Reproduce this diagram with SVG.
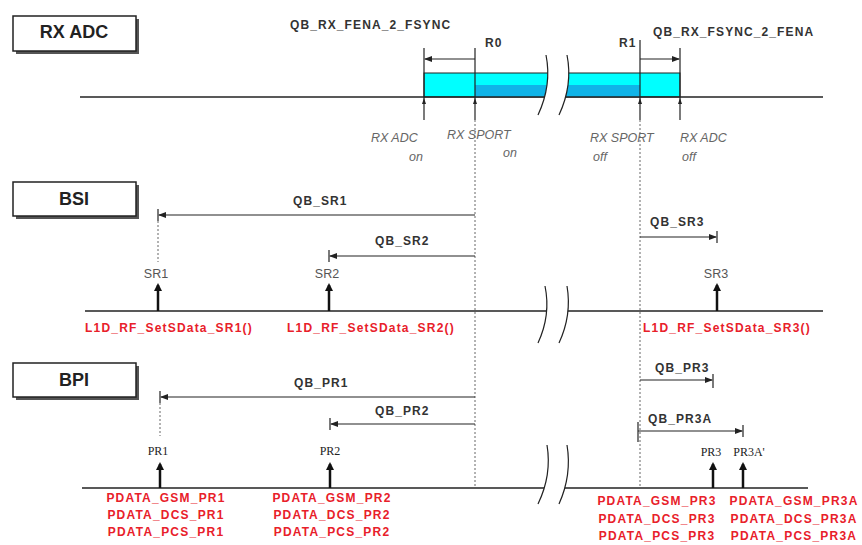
<svg xmlns="http://www.w3.org/2000/svg" width="862" height="545" viewBox="0 0 862 545">
<style>
.box{fill:#fff;stroke:#222;stroke-width:1.5}
.shadow{fill:#555}
.boxt{font-family:"Liberation Sans",Arial,sans-serif;font-weight:bold;font-size:18px;fill:#222;text-anchor:middle}
.tl{stroke:#222;stroke-width:1.5;fill:none}
.ln{stroke:#222;stroke-width:1.2;fill:none}
.dot{stroke:#666;stroke-width:1;stroke-dasharray:2 2;fill:none}
.up{stroke:#111;stroke-width:2.5;fill:none}
.qb{font-family:"Liberation Sans",Arial,sans-serif;font-weight:bold;font-size:12px;letter-spacing:1.1px;fill:#333}
.sr{font-family:"Liberation Sans",Arial,sans-serif;font-size:12.5px;fill:#555;text-anchor:middle}
.pr{font-family:"Liberation Serif","Times New Roman",serif;font-size:12px;fill:#222;text-anchor:middle}
.it{font-family:"Liberation Sans",Arial,sans-serif;font-style:italic;font-size:12.5px;fill:#666}
.red{font-family:"Liberation Sans",Arial,sans-serif;font-weight:bold;font-size:12px;letter-spacing:1.2px;fill:#E8202A;text-anchor:middle}
.brk{stroke:#222;stroke-width:1.2;fill:none}
</style>
<defs>
<marker id="ah" markerWidth="8" markerHeight="6" refX="7" refY="3" orient="auto" markerUnits="userSpaceOnUse">
<path d="M0,0 L8,3 L0,6 Z" fill="#222"/>
</marker>
<marker id="au" markerWidth="8" markerHeight="8" refX="6" refY="4" orient="auto" markerUnits="userSpaceOnUse">
<path d="M0,0 L8,4 L0,8 Z" fill="#111"/>
</marker>
</defs>
<rect width="862" height="545" fill="#fff"/>

<!-- RX ADC section -->
<g id="rxadc-box">
<rect class="shadow" x="16" y="19" width="123" height="35"/>
<rect class="box" x="13" y="16" width="123" height="35"/>
<text class="boxt" x="74" y="38">RX ADC</text>
</g>
<g id="rxadc-bar">
<rect x="424" y="73" width="256" height="24" fill="#00FFFF" stroke="#222" stroke-width="1"/>
<rect x="475" y="85" width="165" height="12" fill="#10B4E8"/>
</g>
<g id="rxadc-line">
<line class="tl" x1="80" y1="97" x2="823" y2="97"/>
</g>

<!-- BSI section -->
<g id="bsi-box">
<rect class="shadow" x="16" y="185" width="123" height="34"/>
<rect class="box" x="13" y="182" width="123" height="34"/>
<text class="boxt" x="74" y="205">BSI</text>
</g>
<g id="bsi-line">
<line class="tl" x1="85" y1="311" x2="823" y2="311"/>
</g>

<!-- BPI section -->
<g id="bpi-box">
<rect class="shadow" x="16" y="366" width="123" height="34"/>
<rect class="box" x="13" y="363" width="123" height="34"/>
<text class="boxt" x="74" y="386">BPI</text>
</g>
<g id="bpi-line">
<line class="tl" x1="82" y1="488" x2="808" y2="488"/>
</g>

<!-- breaks -->
<g id="breaks">
<path d="M546,55 Q552,85 538,115 L559,115 Q573,85 567,55 Z" fill="#fff"/>
<path class="brk" d="M546,55 Q552,85 538,115"/>
<path class="brk" d="M567,55 Q573,85 559,115"/>
<path d="M545,286 Q551,315 538,343 L559,343 Q572,315 567,286 Z" fill="#fff"/>
<path class="brk" d="M545,286 Q551,315 538,343"/>
<path class="brk" d="M567,286 Q572,315 559,343"/>
<path d="M547,445 Q552,475 538,504 L559,504 Q572,475 567,445 Z" fill="#fff"/>
<path class="brk" d="M547,445 Q552,475 538,504"/>
<path class="brk" d="M567,445 Q572,475 559,504"/>
</g>

<g id="connectors">
<!-- R0 / R1 reference lines -->
<line class="ln" x1="475" y1="48" x2="475" y2="120"/>
<line class="dot" x1="475" y1="120" x2="475" y2="488"/>
<line class="ln" x1="640" y1="40" x2="640" y2="120"/>
<line class="dot" x1="640" y1="120" x2="640" y2="488"/>
<line class="ln" x1="424" y1="48" x2="424" y2="120"/>
<line class="ln" x1="680" y1="48" x2="680" y2="120"/>
<path d="M422,104 L424,98 L426,104 Z" fill="#222"/>
<path d="M473,104 L475,98 L477,104 Z" fill="#222"/>
<path d="M638,104 L640,98 L642,104 Z" fill="#222"/>
<path d="M678,104 L680,98 L682,104 Z" fill="#222"/>
<line class="ln" x1="475" y1="59" x2="425" y2="59" marker-end="url(#ah)"/>
<line class="ln" x1="640" y1="59" x2="679" y2="59" marker-end="url(#ah)"/>

<!-- BSI -->
<line class="ln" x1="475" y1="215" x2="159" y2="215" marker-end="url(#ah)"/>
<line class="ln" x1="158" y1="209" x2="158" y2="221"/>
<line class="dot" x1="158" y1="221" x2="158" y2="262"/>
<line class="ln" x1="475" y1="256" x2="330" y2="256" marker-end="url(#ah)"/>
<line class="ln" x1="329" y1="250" x2="329" y2="262"/>
<line class="ln" x1="640" y1="237" x2="716" y2="237" marker-end="url(#ah)"/>
<line class="ln" x1="717" y1="231" x2="717" y2="243"/>
<line class="up" x1="158" y1="311" x2="158" y2="285" marker-end="url(#au)"/>
<line class="up" x1="329" y1="311" x2="329" y2="285" marker-end="url(#au)"/>
<line class="up" x1="717" y1="311" x2="717" y2="285" marker-end="url(#au)"/>

<!-- BPI -->
<line class="ln" x1="475" y1="397" x2="161" y2="397" marker-end="url(#ah)"/>
<line class="ln" x1="160" y1="391" x2="160" y2="403"/>
<line class="dot" x1="160" y1="403" x2="160" y2="436"/>
<line class="ln" x1="475" y1="424" x2="331" y2="424" marker-end="url(#ah)"/>
<line class="ln" x1="330" y1="418" x2="330" y2="430"/>
<line class="ln" x1="640" y1="380" x2="712" y2="380" marker-end="url(#ah)"/>
<line class="ln" x1="713" y1="374" x2="713" y2="388"/>
<line class="ln" x1="638" y1="431" x2="742" y2="431" marker-end="url(#ah)"/>
<line class="ln" x1="638" y1="422" x2="638" y2="442"/>
<line class="ln" x1="743" y1="425" x2="743" y2="437"/>
<line class="up" x1="160" y1="488" x2="160" y2="464" marker-end="url(#au)"/>
<line class="up" x1="330" y1="488" x2="330" y2="464" marker-end="url(#au)"/>
<line class="up" x1="713" y1="488" x2="713" y2="464" marker-end="url(#au)"/>
<line class="up" x1="743" y1="488" x2="743" y2="464" marker-end="url(#au)"/>
</g>

<g id="labels">
<text class="qb" x="290" y="29">QB_RX_FENA_2_FSYNC</text>
<text class="qb" x="485" y="47">R0</text>
<text class="qb" x="619" y="47">R1</text>
<text class="qb" x="653" y="36">QB_RX_FSYNC_2_FENA</text>
<text class="it" x="371" y="142">RX ADC</text>
<text class="it" x="409" y="161">on</text>
<text class="it" x="447" y="139">RX SPORT</text>
<text class="it" x="503" y="157">on</text>
<text class="it" x="590" y="142">RX SPORT</text>
<text class="it" x="593" y="161">off</text>
<text class="it" x="680" y="142">RX ADC</text>
<text class="it" x="682" y="161">off</text>

<text class="qb" x="293" y="205">QB_SR1</text>
<text class="qb" x="375" y="245">QB_SR2</text>
<text class="qb" x="650" y="226">QB_SR3</text>
<text class="sr" x="156" y="278">SR1</text>
<text class="sr" x="327" y="278">SR2</text>
<text class="sr" x="716" y="278">SR3</text>
<text class="red" x="169" y="332">L1D_RF_SetSData_SR1()</text>
<text class="red" x="371" y="332">L1D_RF_SetSData_SR2()</text>
<text class="red" x="727" y="332">L1D_RF_SetSData_SR3()</text>

<text class="qb" x="294" y="387">QB_PR1</text>
<text class="qb" x="375" y="415">QB_PR2</text>
<text class="qb" x="655" y="372">QB_PR3</text>
<text class="qb" x="648" y="423">QB_PR3A</text>
<text class="pr" x="158" y="455">PR1</text>
<text class="pr" x="330" y="455">PR2</text>
<text class="pr" x="711" y="456">PR3</text>
<text class="pr" x="749" y="456">PR3A'</text>
<text class="red" x="166" y="502">PDATA_GSM_PR1</text>
<text class="red" x="166" y="519">PDATA_DCS_PR1</text>
<text class="red" x="166" y="536">PDATA_PCS_PR1</text>
<text class="red" x="332" y="502">PDATA_GSM_PR2</text>
<text class="red" x="332" y="519">PDATA_DCS_PR2</text>
<text class="red" x="332" y="536">PDATA_PCS_PR2</text>
<text class="red" x="657" y="505">PDATA_GSM_PR3</text>
<text class="red" x="657" y="523">PDATA_DCS_PR3</text>
<text class="red" x="657" y="540">PDATA_PCS_PR3</text>
<text class="red" x="794" y="505">PDATA_GSM_PR3A</text>
<text class="red" x="794" y="523">PDATA_DCS_PR3A</text>
<text class="red" x="794" y="540">PDATA_PCS_PR3A</text>
</g>
</svg>
